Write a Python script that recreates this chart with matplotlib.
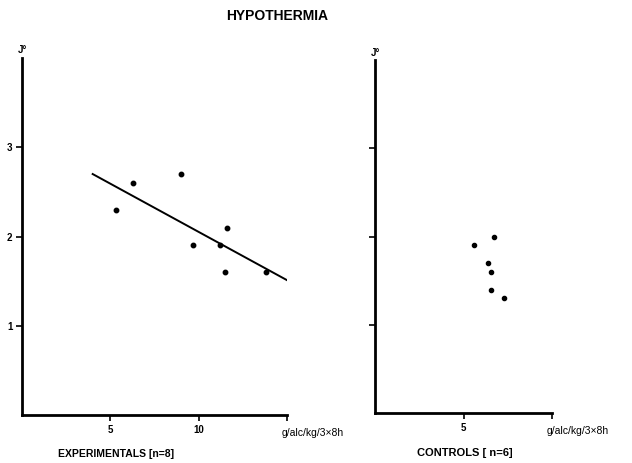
import matplotlib
matplotlib.use("Agg")
import matplotlib.pyplot as plt

plt.rcParams["font.family"] = ["Liberation Sans", "DejaVu Sans"]
plt.rcParams["font.weight"] = "bold"

# experimentals (n=8)
exp_dose = [5.3, 6.3, 9.0, 9.7, 11.2, 11.6, 11.5, 13.8]
exp_temp = [2.3, 2.6, 2.7, 1.9, 1.9, 2.1, 1.6, 1.6]
fit_x = [4.0, 15.1]
fit_y = [2.7, 1.5]

# controls (n=6)
ctl_dose = [5.6, 6.7, 6.4, 6.55, 6.55, 7.3]
ctl_temp = [1.9, 2.0, 1.7, 1.6, 1.4, 1.3]

unit = "g/alc/kg/3\u00d78h"
ylab = "J\u00b0"

fig = plt.figure(figsize=(6.32, 4.63), dpi=100)
ax1 = fig.add_axes([0.0348, 0.1037, 0.4193, 0.771])
ax2 = fig.add_axes([0.5934, 0.108, 0.280, 0.762])


def style(ax, xmax, xticks, xlabels, ylabels):
    ax.set_xlim(0, xmax)
    ax.set_ylim(0, 4)
    for s in ["top", "right"]:
        ax.spines[s].set_visible(False)
    for s in ["left", "bottom"]:
        ax.spines[s].set_linewidth(2.0)
    ax.set_xticks(xticks)
    ax.set_xticklabels(xlabels, fontsize=7, fontweight="bold")
    ax.set_yticks([1, 2, 3])
    ax.set_yticklabels(ylabels, fontsize=7, fontweight="bold")
    ax.tick_params(length=4, width=1.2, pad=3)
    ax.text(0, 4.03, ylab, fontsize=7, fontweight="bold", ha="center", va="bottom")
    ax.text(xmax - 0.3, -0.2, unit, fontsize=7.5, ha="left", va="center",
            fontweight="normal")


style(ax1, 15, [5, 10, 15], ["5", "10", ""], ["1", "2", "3"])
style(ax2, 10, [5, 10], ["5", ""], ["", "", ""])

ax1.plot(exp_dose, exp_temp, "o", color="black", markersize=3.2)
ax1.plot(fit_x, fit_y, "-", color="black", linewidth=1.4)
ax2.plot(ctl_dose, ctl_temp, "o", color="black", markersize=3.0)

ax1.text(5.3, -0.44, "EXPERIMENTALS [n=8]", fontsize=7.5, fontweight="bold",
         ha="center", va="center")
ax2.text(5.1, -0.45, "CONTROLS [ n=6]", fontsize=8, fontweight="bold",
         ha="center", va="center")

fig.text(0.438, 0.965, "HYPOTHERMIA", fontsize=10, fontweight="bold",
         ha="center", va="center")

fig.savefig("out.png", dpi=100)
